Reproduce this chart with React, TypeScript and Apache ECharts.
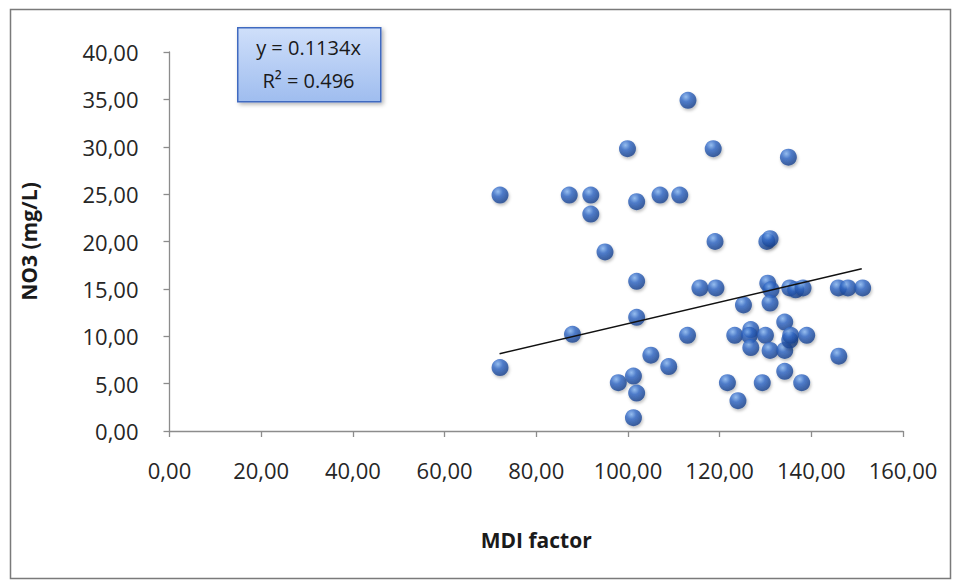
import React, { useEffect, useRef } from "react";
import * as echarts from "echarts";

const mdiFactor = [
  72.1, 72.1, 87.2, 87.9, 91.9, 91.9, 95.0, 97.9, 99.9, 101.2, 101.2, 101.9, 101.9, 101.9, 101.9,
  105.0, 107.0, 108.9, 111.3, 113.1, 113.0, 115.7, 118.6, 119.0, 119.2, 121.7, 124.0, 123.3, 125.2,
  126.8, 126.5, 126.8, 130.0, 129.3, 130.3, 131.0, 130.5, 131.2, 131.0, 131.0, 134.2, 134.2, 134.2,
  135.0, 135.3, 136.6, 138.2, 135.3, 135.5, 139.0, 137.9, 146.0, 145.9, 148.0, 151.2,
];
const no3 = [
  6.7, 24.9, 24.9, 10.2, 24.9, 22.9, 18.9, 5.1, 29.8, 5.8, 1.4, 4.0, 24.2, 12.0, 15.8,
  8.0, 24.9, 6.8, 24.9, 34.9, 10.1, 15.1, 29.8, 20.0, 15.1, 5.1, 3.2, 10.1, 13.3,
  10.7, 10.1, 8.8, 10.1, 5.1, 20.0, 20.3, 15.6, 14.9, 13.5, 8.5, 11.5, 8.5, 6.3,
  28.9, 15.1, 14.9, 15.1, 9.6, 10.1, 10.1, 5.1, 7.9, 15.1, 15.1, 15.1,
];
const trendX = [72, 151];
const trendY = [8.16, 17.12];
const equationLines = ["y = 0.1134x", "R² = 0.496"];
const xTitle = "MDI factor";
const yTitle = "NO3 (mg/L)";

const fmt = (v: number) => v.toFixed(2).replace(".", ",");

export default function App() {
  const ref = useRef<HTMLDivElement>(null);
  useEffect(() => {
    if (!ref.current) return;
    const chart = echarts.init(ref.current, null, { renderer: "svg" });
    const font = "'Open Sans', 'Liberation Sans', sans-serif";
    const axisColor = "#8c8c8c";
    chart.setOption({
      animation: false,
      backgroundColor: "#ffffff",
      grid: { left: 169.5, right: 55, top: 52, bottom: 149, containLabel: false },
      xAxis: {
        type: "value",
        min: 0,
        max: 160,
        interval: 20,
        name: xTitle,
        nameLocation: "middle",
        nameGap: 98,
        nameTextStyle: { fontFamily: font, fontSize: 21, fontWeight: "bold", color: "#1a1a1a" },
        axisLine: { show: true, onZero: false, lineStyle: { color: axisColor, width: 1.3 } },
        axisTick: { show: true, inside: false, length: 6, lineStyle: { color: axisColor, width: 1.3 } },
        axisLabel: { formatter: fmt, margin: 28, fontFamily: font, fontSize: 22, color: "#262626" },
        splitLine: { show: false },
      },
      yAxis: {
        type: "value",
        min: 0,
        max: 40,
        interval: 5,
        name: yTitle,
        nameLocation: "middle",
        nameGap: 130,
        nameRotate: 90,
        nameTextStyle: { fontFamily: font, fontSize: 21, fontWeight: "bold", color: "#1a1a1a" },
        axisLine: { show: true, lineStyle: { color: axisColor, width: 1.3 } },
        axisTick: { show: true, inside: false, length: 6, lineStyle: { color: axisColor, width: 1.3 } },
        axisLabel: { formatter: fmt, margin: 31, fontFamily: font, fontSize: 22, color: "#262626" },
        splitLine: { show: false },
      },
      series: [
        {
          type: "line",
          data: trendX.map((x, i) => [x, trendY[i]]),
          symbol: "none",
          lineStyle: { color: "#111", width: 1.5 },
          z: 3,
        },
        {
          type: "scatter",
          data: mdiFactor.map((x, i) => [x, no3[i]]),
          symbol: "circle",
          symbolSize: 17,
          itemStyle: {
            color: new echarts.graphic.RadialGradient(0.38, 0.3, 0.72, [
              { offset: 0, color: "#86b6f2" },
              { offset: 0.4, color: "#2f66c4" },
              { offset: 1, color: "#163e88" },
            ]),
            shadowColor: "rgba(0,0,0,0.3)",
            shadowBlur: 3,
            shadowOffsetX: 1,
            shadowOffsetY: 2,
          },
          z: 2,
        },
      ],
      graphic: [
        {
          type: "rect",
          left: 8,
          top: 7,
          shape: { width: 940, height: 569 },
          style: { fill: "none", stroke: "#7a7a7a", lineWidth: 1.5 },
          silent: true,
        },
        {
          type: "rect",
          left: 237,
          top: 27,
          shape: { width: 143, height: 74 },
          style: {
            fill: new echarts.graphic.LinearGradient(0, 0, 0, 1, [
              { offset: 0, color: "#cfdffa" },
              { offset: 1, color: "#9fbdef" },
            ]),
            stroke: "#416bc0",
            lineWidth: 1.5,
            shadowColor: "rgba(0,0,0,0.3)",
            shadowBlur: 4,
            shadowOffsetX: 2,
            shadowOffsetY: 2,
          },
          z: 10,
        },
        {
          type: "text",
          x: 308.5,
          y: 47,
          style: {
            text: equationLines[0],
            fontFamily: font,
            fontSize: 20,
            fill: "#1a1a1a",
            align: "center",
            verticalAlign: "middle",
          },
          z: 11,
        },
        {
          type: "text",
          x: 308.5,
          y: 80,
          style: {
            text: equationLines[1],
            fontFamily: font,
            fontSize: 20,
            fill: "#1a1a1a",
            align: "center",
            verticalAlign: "middle",
          },
          z: 11,
        },
      ],
    });
    return () => chart.dispose();
  }, []);
  return (
    <div
      ref={ref}
      style={{ position: "fixed", left: 0, top: 0, width: 958, height: 580, background: "#fff" }}
    />
  );
}
